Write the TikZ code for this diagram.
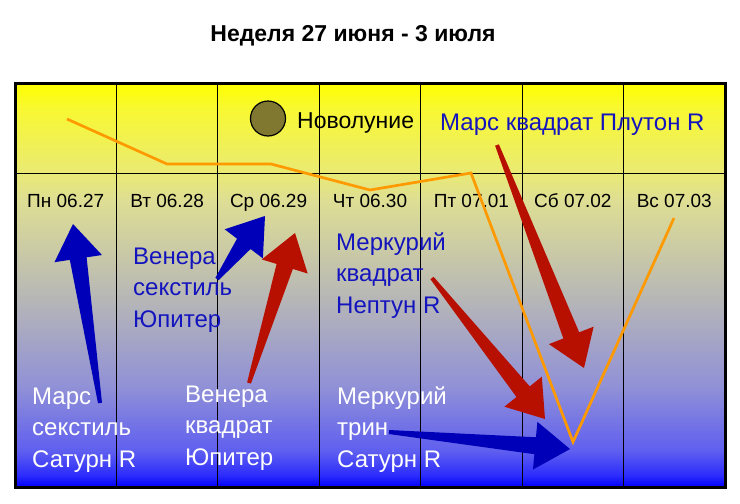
\documentclass[tikz,border=0pt]{standalone}
\usepackage{fontspec}
\setmainfont{Liberation Sans}
\usepackage{xcolor}
\usepackage{tikz}
\usetikzlibrary{calc, positioning}

\definecolor{bgA}{RGB}{45,45,252}
\definecolor{bgB}{RGB}{95,95,240}
\definecolor{bgC}{RGB}{145,145,215}
\definecolor{bgD}{RGB}{188,188,178}
\definecolor{bgE}{RGB}{222,222,148}
\definecolor{bgF}{RGB}{234,234,115}
\definecolor{bgG}{RGB}{248,248,50}
\definecolor{moonolive}{RGB}{128,120,48}
\definecolor{aspblue}{RGB}{0,0,184}
\definecolor{aspred}{RGB}{184,16,0}
\definecolor{textblue}{RGB}{20,20,190}
\definecolor{curveorange}{RGB}{255,153,0}

\pgfdeclareverticalshading{weekshade}{100bp}{color(0bp)=(blue); color(25bp)=(blue);
  color(26.5bp)=(bgA); color(29.5bp)=(bgB); color(37.5bp)=(bgC); color(50bp)=(bgD);
  color(60.5bp)=(bgE); color(64bp)=(bgF); color(71.8bp)=(bgG); color(75bp)=(yellow);
  color(100bp)=(yellow)}

% толстая стрелка: цвет, хвост, остриё
\newcommand{\fatarrow}[3]{%
  \coordinate (hb) at ($(#3)!35pt!(#2)$);
  \fill[#1] ($(#2)!2pt!90:(#3)$) -- ($(hb)!8.5pt!90:(#3)$)
    -- ($(hb)!24pt!90:(#3)$) -- (#3) -- ($(hb)!24pt!-90:(#3)$)
    -- ($(hb)!8.5pt!-90:(#3)$) -- ($(#2)!2pt!-90:(#3)$) -- cycle;}

\begin{document}
\begin{tikzpicture}[
        x=1pt, y=-1pt,
        daylbl/.style={font=\fontsize{19}{22}\selectfont, anchor=base, inner sep=0pt},
        aspect/.style={font=\fontsize{24}{31.5}\selectfont, align=left, anchor=base west,
          inner sep=0pt},
        curve/.style={curveorange, line width=2.7pt},
      ]
      \useasboundingbox (0,0) rectangle (740,504);

      % Фон и сетка
      \shade[shading=weekshade] (15,83) rectangle (725,487);
      \foreach \x in {116.4,217.9,319.3,420.7,522.1,623.6}
        \draw[line width=1pt] (\x,83) -- (\x,487);
      \draw[line width=1pt] (15,173) -- (725,173);
      \draw[line width=3pt] (15,83) rectangle (725,487);

      % Заголовок
      \node[font=\bfseries\fontsize{23}{27}\selectfont, anchor=base] (title) at (353,41)
        {Неделя 27 июня - 3 июля};

      % Дни
      \foreach \d [count=\i] in {Пн 06.27, Вт 06.28, Ср 06.29, Чт 06.30, Пт 07.01,
          Сб 07.02, Вс 07.03}
        \node[daylbl] (day\i) at ({15+101.43*(\i-0.5)},207) {\d};

      % Новолуние
      \node[circle, draw, line width=1.2pt, fill=moonolive, minimum size=35pt,
        inner sep=0pt] (moon) at (268,118.5) {};
      \node[font=\fontsize{23}{27}\selectfont, anchor=base west, inner sep=0pt]
        (newmoon) at (297,128) {Новолуние};

      % Аспекты (точка привязки -- база последней строки)
      \node[aspect, textblue] (marsq) at (440,130) {Марс квадрат Плутон R};
      \node[aspect, textblue] (vensx) at (133,327) {Венера\\секстиль\\Юпитер};
      \node[aspect, textblue] (merq) at (336,313) {Меркурий\\квадрат\\Нептун R};
      \node[aspect, white] (marssx) at (32,467) {Марс\\секстиль\\Сатурн R};
      \node[aspect, white] (venq) at (185,465) {Венера\\квадрат\\Юпитер};
      \node[aspect, white] (mertr) at (337,467) {Меркурий\\трин\\Сатурн R};

      % Кривая
      \coordinate (c1) at (67,119);
      \coordinate (c2) at (167,164);
      \coordinate (c3) at (271,164);
      \coordinate (c4) at (370,190);
      \coordinate (c5) at (471,173);
      \coordinate (c6) at (573,442);
      \coordinate (c7) at (674,218);
      \draw[curve] (c1) -- (c2) -- (c3) -- (c4) -- (c5) -- (c6) -- (c7);

      % Стрелки
      \coordinate (marssxT) at (100,403);  \coordinate (marssxH) at (73,224);
      \coordinate (vensxT) at (217,279);   \coordinate (vensxH) at (265,216);
      \coordinate (venqT) at (249,383);    \coordinate (venqH) at (295,233);
      \coordinate (marsqT) at (497,145);   \coordinate (marsqH) at (584,368);
      \coordinate (merqT) at (432,278);    \coordinate (merqH) at (545,419);
      \coordinate (mertrT) at (389,432);   \coordinate (mertrH) at (570,449);
      \fatarrow{aspblue}{marssxT}{marssxH}
      \fatarrow{aspblue}{vensxT}{vensxH}
      \fatarrow{aspred}{venqT}{venqH}
      \fatarrow{aspred}{marsqT}{marsqH}
      \fatarrow{aspred}{merqT}{merqH}
      \fatarrow{aspblue}{mertrT}{mertrH}

    \end{tikzpicture}
\end{document}
